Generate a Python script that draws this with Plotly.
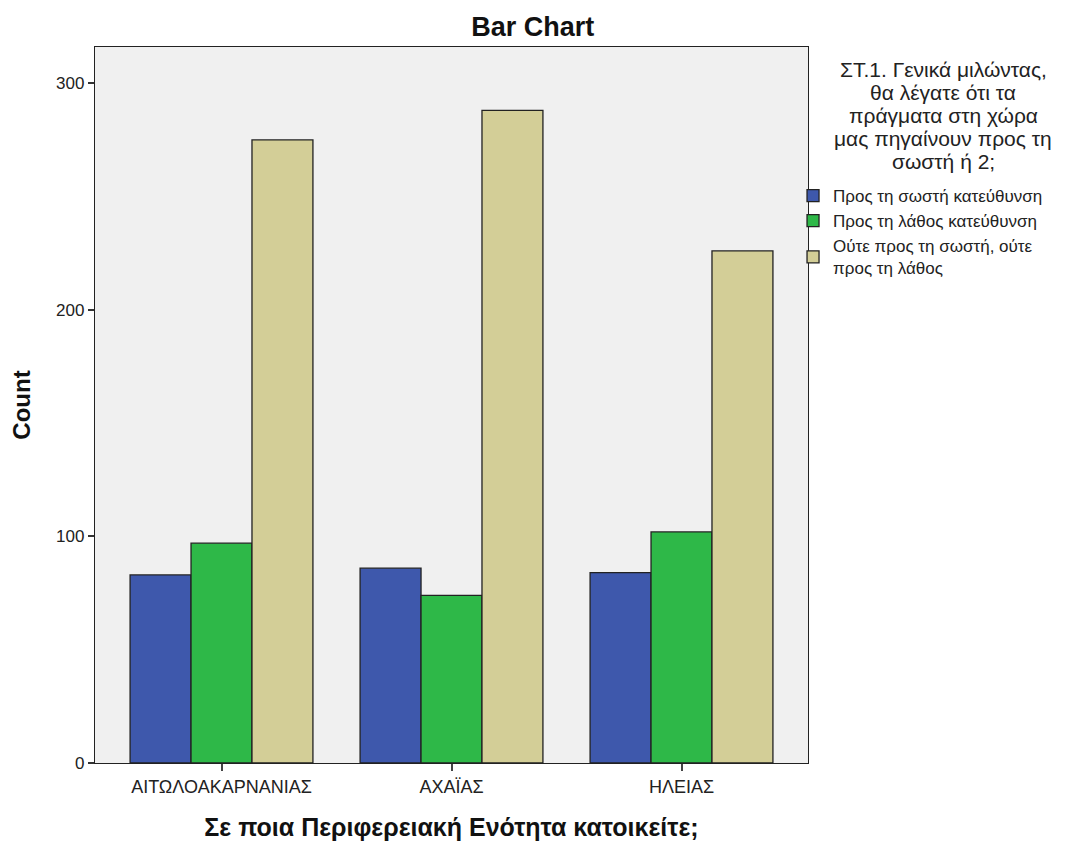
import plotly.graph_objects as go

categories = ["ΑΙΤΩΛΟΑΚΑΡΝΑΝΙΑΣ", "ΑΧΑΪΑΣ", "ΗΛΕΙΑΣ"]
series_names = ["Προς τη σωστή κατεύθυνση", "Προς τη λάθος κατεύθυνση", "Ούτε προς τη σωστή, ούτε<br>προς τη λάθος"]
right_direction = [83, 86, 84]
wrong_direction = [97, 74, 102]
neither = [275, 288, 226]
colors = ["#3E58AC", "#2EB848", "#D3CE97"]
y_ticks = [0, 100, 200, 300]
legend_title_lines = ["ΣΤ.1. Γενικά μιλώντας,", "θα λέγατε ότι τα", "πράγματα στη χώρα", "μας πηγαίνουν προς τη", "σωστή ή 2;"]

fig = go.Figure()
for name, vals, col in zip(series_names, [right_direction, wrong_direction, neither], colors):
    fig.add_trace(go.Bar(x=categories, y=vals, name=name,
                         marker=dict(color=col, line=dict(color="#222222", width=1.3))))

font = "Liberation Sans, Arial, sans-serif"
annotations = []
for i, line in enumerate(legend_title_lines):
    annotations.append(dict(text=line, xref="paper", yref="paper", x=1.19, y=0.969 - i * 0.0322,
                            xanchor="center", yanchor="middle", showarrow=False,
                            font=dict(size=21, color="#222222")))

fig.update_layout(
    width=1060, height=833,
    barmode="group", bargap=0.205, bargroupgap=0,
    paper_bgcolor="white", plot_bgcolor="#F0F0F0",
    margin=dict(l=87, r=260, t=39, b=78, autoexpand=False),
    font=dict(family=font, size=17, color="#222222"),
    title=dict(text="<b>Bar Chart</b>", x=0.495, xanchor="center", y=0.978, yanchor="middle",
               font=dict(size=27, color="#111111")),
    annotations=annotations,
    legend=dict(
        x=0.979, xanchor="left", y=0.817, yanchor="top",
        font=dict(size=17), itemwidth=30, tracegroupgap=0, traceorder="normal",
        bgcolor="rgba(0,0,0,0)",
    ),
    xaxis=dict(
        range=[-0.55, 2.55], showline=True, linecolor="#222222", linewidth=1.3, mirror=True,
        ticks="outside", ticklen=7, tickwidth=2, tickcolor="#444444", automargin=False,
        tickfont=dict(size=18),
        title=dict(text="<b>Σε ποια Περιφερειακή Ενότητα κατοικείτε;</b>", font=dict(size=25, color="#111111"), standoff=24),
    ),
    yaxis=dict(
        range=[0, 316], tickvals=y_ticks, showgrid=False, zeroline=False,
        showline=True, linecolor="#222222", linewidth=1.3, mirror=True, automargin=False,
        ticks="outside", ticklen=6, tickwidth=1.5, tickcolor="#333333",
        tickfont=dict(size=17),
        title=dict(text="<b>Count</b>", font=dict(size=24, color="#111111"), standoff=18),
    ),
)
fig.write_html("out.html")
